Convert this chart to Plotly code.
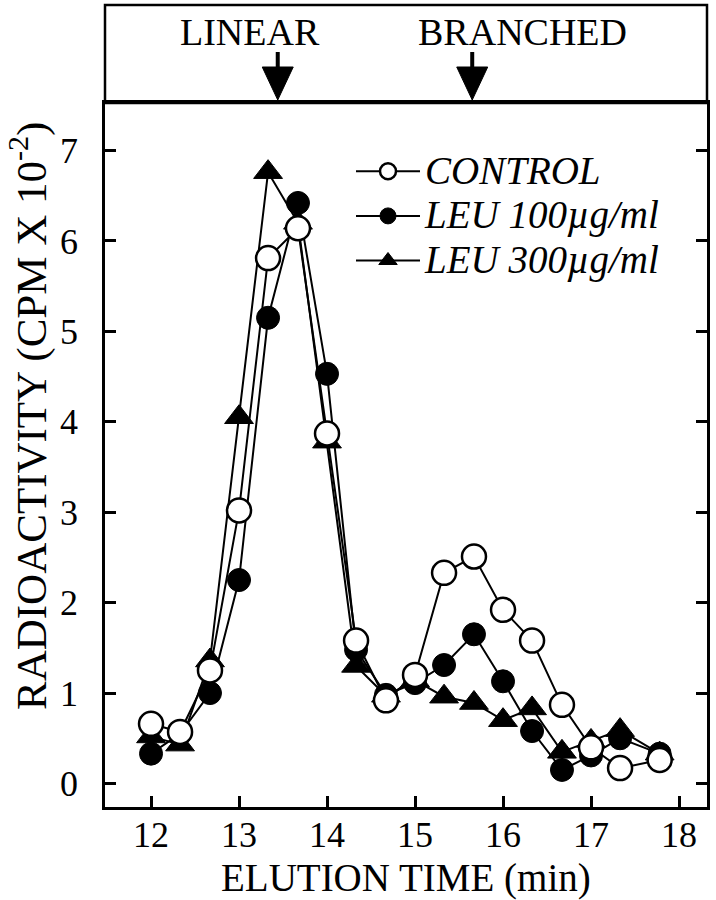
import plotly.graph_objects as go

# ---- data ----
elution_time = [12.0, 12.33, 12.67, 13.0, 13.33, 13.67, 14.0, 14.33, 14.67, 15.0,
                15.33, 15.67, 16.0, 16.33, 16.67, 17.0, 17.33, 17.78]
control = [0.66, 0.57, 1.25, 3.02, 5.81, 6.14, 3.87, 1.58, 0.92, 1.20,
           2.33, 2.51, 1.92, 1.58, 0.87, 0.40, 0.17, 0.26]
leu100 = [0.33, 0.55, 1.00, 2.25, 5.15, 6.42, 4.53, 1.48, 0.98, 1.11,
          1.31, 1.65, 1.13, 0.58, 0.15, 0.31, 0.50, 0.33]
leu300 = [0.52, 0.43, 1.36, 4.05, 6.76, 6.20, 3.78, 1.30, 0.97, 1.14,
          0.96, 0.89, 0.70, 0.83, 0.35, 0.47, 0.59, 0.33]
series_names = ["CONTROL", "LEU 100µg/ml", "LEU 300µg/ml"]
x_ticks = [12, 13, 14, 15, 16, 17, 18]
y_ticks = [0, 1, 2, 3, 4, 5, 6, 7]
marker_labels = ["LINEAR", "BRANCHED"]
marker_positions = [13.44, 15.65]
label_positions = [13.13, 16.22]

FONT = "Liberation Serif"
PLOT_H = 704.0  # plot-area height in px (for paper offsets)
PLOT_W = 602.0
fig = go.Figure()

styles = [
    dict(symbol="circle", color="white", line=dict(color="black", width=2.5), size=24),
    dict(symbol="circle", color="black", line=dict(color="black", width=1), size=23),
    dict(symbol="triangle-up", color="black", line=dict(color="black", width=1), size=25),
]
traces = []
for name, ys, st in zip(series_names, [control, leu100, leu300], styles):
    traces.append(go.Scatter(
        x=elution_time, y=ys, mode="lines+markers",
        name="<span style='font-size:39px'><i>" + name + "</i></span>",
        line=dict(color="black", width=2),
        marker=st,
    ))
for t in reversed(traces):
    fig.add_trace(t)

fig.update_layout(
    width=716, height=900,
    margin=dict(l=105, r=9, t=103, b=93, autoexpand=False),
    paper_bgcolor="white", plot_bgcolor="white",
    font=dict(family=FONT, color="black", size=34),
    showlegend=True,
    legend=dict(
        x=(353 - 105 - 2) / PLOT_W, y=(807 - 144) / PLOT_H, xanchor="left", yanchor="top",
        bgcolor="rgba(0,0,0,0)", borderwidth=0,
        font=dict(family=FONT, size=32, color="black"),
        itemwidth=64, traceorder="reversed",
    ),
    xaxis=dict(
        range=[11.477, 18.318], tickvals=x_ticks, ticktext=[str(v) for v in x_ticks],
        ticks="inside", ticklen=11, tickwidth=2.5, tickcolor="black",
        showline=True, linecolor="black", linewidth=2.5, mirror=True,
        showgrid=False, zeroline=False, automargin=False,
        tickfont=dict(family=FONT, size=36), ticklabelstandoff=-6,
    ),
    yaxis=dict(
        range=[-0.26, 7.525], tickvals=y_ticks, ticktext=[str(v) for v in y_ticks],
        ticks="inside", ticklen=11, tickwidth=2.5, tickcolor="black",
        showline=True, linecolor="black", linewidth=2.5, mirror="ticks",
        showgrid=False, zeroline=False, automargin=False,
        tickfont=dict(family=FONT, size=36), ticklabelstandoff=17,
    ),
)

# axis titles
fig.add_annotation(x=0.5, y=-(878 - 807) / PLOT_H, xref="paper", yref="paper",
                   text="ELUTION TIME (min)", showarrow=False, yanchor="middle",
                   font=dict(family=FONT, size=39, color="black"))
fig.add_annotation(x=-(105 - 28) / PLOT_W, y=(807 - 416) / PLOT_H, xref="paper", yref="paper",
                   text="RADIOACTIVITY (CPM X 10<sup>-2</sup>)", showarrow=False, textangle=-90,
                   xanchor="center", yanchor="middle",
                   font=dict(family=FONT, size=43, color="black"))

# top box above the plot
fig.add_shape(type="rect", xref="paper", yref="paper", x0=0, x1=1, y0=1, y1=1 + 98 / PLOT_H,
              line=dict(color="black", width=2.5), fillcolor="rgba(0,0,0,0)")

def py(px_from_top):
    return 1 + (103 - px_from_top) / PLOT_H

head_half = 15.5 / 88.0
for lab, xp, xl in zip(marker_labels, marker_positions, label_positions):
    fig.add_annotation(x=xl, y=py(32), xref="x", yref="paper", text=lab, showarrow=False,
                       font=dict(family=FONT, size=38, color="black"), yanchor="middle")
    fig.add_shape(type="line", xref="x", yref="paper", x0=xp, x1=xp, y0=py(52), y1=py(70),
                  line=dict(color="black", width=4))
    fig.add_shape(type="path", xref="x", yref="paper",
                  path=f"M {xp - head_half} {py(67)} L {xp + head_half} {py(67)} L {xp} {py(100)} Z",
                  fillcolor="black", line=dict(color="black", width=1))

fig.write_html("out.html", config={"displayModeBar": False},
               post_script="document.body.style.margin='0px';")
